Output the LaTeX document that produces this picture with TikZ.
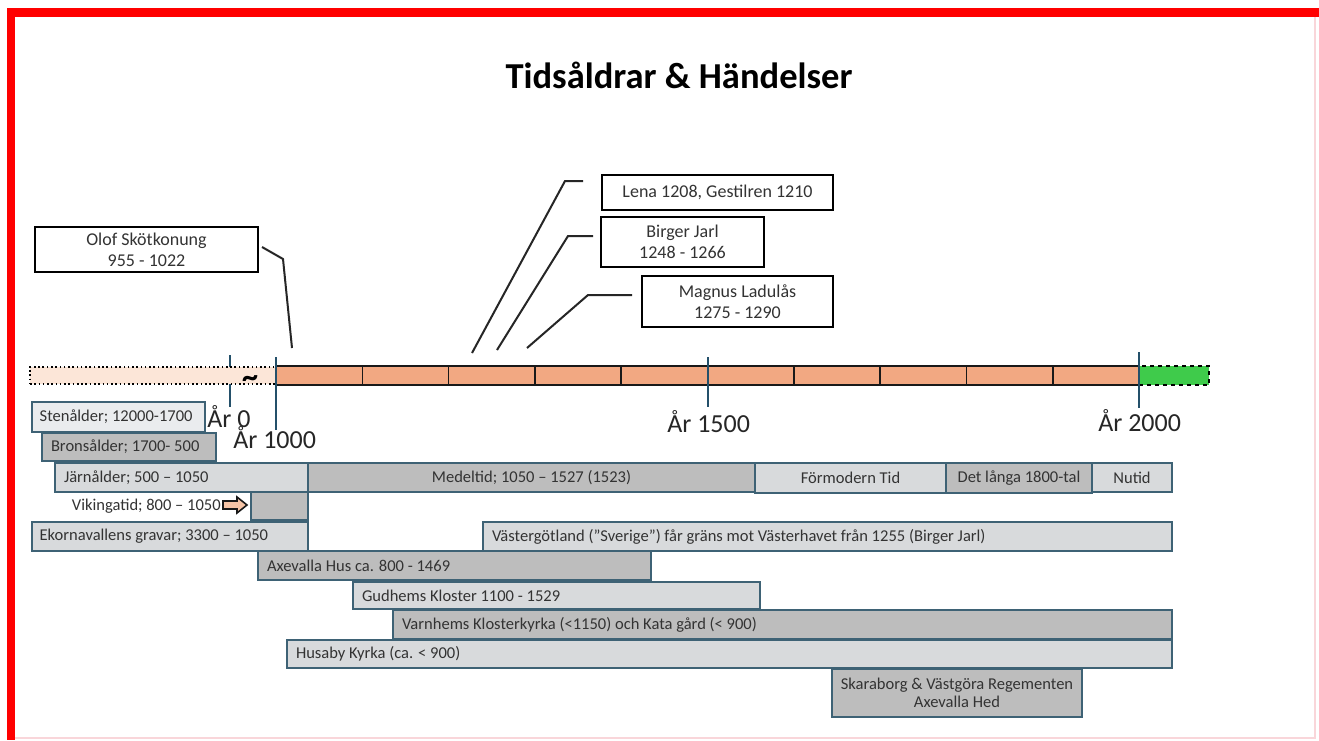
\documentclass[tikz,border=0pt]{standalone}
\usepackage{fontspec}
\setmainfont{Carlito}
\usetikzlibrary{fit}
\definecolor{barline}{HTML}{3E6275}
\definecolor{lightbar}{HTML}{D8DADC}
\definecolor{palebar}{HTML}{EAECEE}
\definecolor{darkbar}{HTML}{BDBDBD}
\definecolor{txt}{HTML}{333333}
\definecolor{tickc}{HTML}{24506A}
\definecolor{orangeseg}{HTML}{F2A882}
\definecolor{peach}{HTML}{FCE6D8}
\definecolor{greenseg}{HTML}{3FCB4B}
\definecolor{arrowfill}{HTML}{F6C4A6}
\definecolor{framepink}{HTML}{F9D6DA}
\tikzset{
  bar/.style={draw=barline, line width=0.9pt, inner sep=0pt},
  bartext/.style={font=\fontsize{12.4}{14}\selectfont, text=txt, inner sep=0pt},
  callout/.style={draw=black, line width=1.4pt, fill=white, inner sep=0pt},
  callouttext/.style={align=center, text=txt, inner sep=0pt, font=\fontsize{13.5}{16}\selectfont},
  leader/.style={line width=1.5pt, draw=black!85},
  tickline/.style={draw=tickc, line width=1.2pt},
  yearlab/.style={font=\fontsize{19.5}{22}\selectfont, inner sep=0pt, anchor=base west, text=black!85},
  seg/.style={draw=black!90, line width=1.2pt, fill=orangeseg, inner sep=0pt},
}
\newcommand\tlbar[6]{\node[bar, fill=#6, fit={(#2,#3)(#4,#5)}] (#1) {};}
\begin{document}
\begin{tikzpicture}[x=0.75pt,y=-0.75pt]
\useasboundingbox (0,0) rectangle (1319,740);
\fill[white] (0,0) rectangle (1319,740);
% frame
\fill[red] (7,8) rectangle (1319,17);
\fill[red] (7,8) rectangle (15,740);
\draw[framepink, line width=1pt] (1315,17) -- (1315,738) -- (15,738);
% title
\node[font=\bfseries\fontsize{27.4}{30}\selectfont, inner sep=0pt] (title) at (679,75) {Tidsåldrar \& Händelser};
% year 0 tick (behind bar)
\coordinate (t0a) at (230,355); \coordinate (t0b) at (230,407);
\draw[tickline] (t0a) -- (t0b);
% timeline bar
\node[draw=black, dotted, line width=1.2pt, fill=peach, inner sep=0pt, fit={(30,367)(276,384)}] (prehist) {};
\foreach \i in {0,...,9}{
  \pgfmathsetmacro\xa{276+86.3*\i}
  \pgfmathsetmacro\xb{276+86.3*(\i+1)}
  \node[seg, fit={(\xa,366)(\xb,385)}] (seg\i) {};
}
\node[draw=black, dashed, line width=1.6pt, fill=greenseg, inner sep=0pt, fit={(1139,366)(1209,385)}] (future) {};
\node[font=\bfseries\fontsize{24}{24}\selectfont, inner sep=0pt] (tilde) at (250,382) {\textasciitilde};
% other ticks
\coordinate (t1a) at (276,357); \coordinate (t1b) at (276,430);
\coordinate (t2a) at (708,357); \coordinate (t2b) at (708,407);
\coordinate (t3a) at (1139,352); \coordinate (t3b) at (1139,408);
\draw[tickline] (t1a) -- (t1b);
\draw[tickline] (t2a) -- (t2b);
\draw[tickline] (t3a) -- (t3b);
% year labels
\node[yearlab] (y0) at (207,427) {År 0};
\node[yearlab] (y1000) at (233,448) {År 1000};
\node[yearlab] (y1500) at (667,432) {År 1500};
\node[yearlab] (y2000) at (1098,431) {År 2000};
% callouts
\node[callout, fit={(35,227)(258,272)}] (olof) {};
\node[callouttext] (olofT) at (olof.center) {Olof Skötkonung\\955 - 1022};
\node[callout, fit={(602,175)(833,210)}] (lena) {};
\node[callouttext] (lenaT) at (lena.center) {Lena 1208, Gestilren 1210};
\node[callout, fit={(601,217)(764,267)}] (birger) {};
\node[callouttext] (birgerT) at (birger.center) {Birger Jarl\\1248 - 1266};
\node[callout, fit={(642,276)(833,327)}] (magnus) {};
\node[callouttext] (magnusT) at (magnus.center) {Magnus Ladulås\\1275 - 1290};
% leaders
\coordinate (olA) at (262,247); \coordinate (olB) at (283,259); \coordinate (olC) at (292,348);
\coordinate (leA) at (583,181); \coordinate (leB) at (565,181); \coordinate (leC) at (472,353);
\coordinate (biA) at (593,236); \coordinate (biB) at (568,236); \coordinate (biC) at (497,350);
\coordinate (maA) at (632,295); \coordinate (maB) at (588,295); \coordinate (maC) at (527,348);
\draw[leader] (olA) -- (olB) -- (olC);
\draw[leader] (leA) -- (leB) -- (leC);
\draw[leader] (biA) -- (biB) -- (biC);
\draw[leader] (maA) -- (maB) -- (maC);
% period bars
\tlbar{sten}{32}{402}{205}{432}{palebar}
\node[bartext, anchor=west] (stenT) at ([xshift=6pt]sten.west) {Stenålder; 12000-1700};
\tlbar{brons}{42}{433}{216}{461}{darkbar}
\node[bartext, anchor=west] (bronsT) at ([xshift=7pt]brons.west) {Bronsålder; 1700- 500};
\tlbar{jarn}{55}{463}{308}{492}{lightbar}
\node[bartext, anchor=west] (jarnT) at ([xshift=7pt]jarn.west) {Järnålder; 500 – 1050};
\tlbar{medel}{308}{463}{755}{492}{darkbar}
\node[bartext] (medelT) at (medel.center) {Medeltid; 1050 – 1527 (1523)};
\tlbar{formod}{755}{463}{946}{493}{lightbar}
\node[bartext] (formodT) at (formod.center) {Förmodern Tid};
\tlbar{lang}{946}{463}{1092}{493}{darkbar}
\node[bartext] (langT) at (lang.center) {Det långa 1800-tal};
\tlbar{nutid}{1092}{463}{1172}{492}{lightbar}
\node[bartext] (nutidT) at (nutid.center) {Nutid};
\tlbar{viking}{251}{492}{308}{520}{darkbar}
\node[bartext, anchor=east] (vikingT) at (221,506) {Vikingatid; 800 – 1050};
\fill[arrowfill, draw=black!90, line width=1.2pt]
  (223,501) -- (237,501) -- (237,497) -- (247,505) -- (237,513) -- (237,509) -- (223,509) -- cycle;
\tlbar{ekorna}{32}{522}{308}{551}{lightbar}
\node[bartext, anchor=west] (ekornaT) at ([xshift=6pt]ekorna.west) {Ekornavallens gravar; 3300 – 1050};
\tlbar{vastg}{483}{522}{1172}{551}{lightbar}
\node[bartext, anchor=west] (vastgT) at ([xshift=7pt]vastg.west) {Västergötland ("Sverige") får gräns mot Västerhavet från 1255 (Birger Jarl)};
\tlbar{axev}{258}{551}{651}{580}{darkbar}
\node[bartext, anchor=west] (axevT) at ([xshift=7pt]axev.west) {Axevalla Hus ca. 800 - 1469};
\tlbar{gudh}{353}{582}{760}{609}{lightbar}
\node[bartext, anchor=west] (gudhT) at ([xshift=7pt]gudh.west) {Gudhems Kloster 1100 - 1529};
\tlbar{varn}{393}{610}{1172}{639}{darkbar}
\node[bartext, anchor=west] (varnT) at ([xshift=7pt]varn.west) {Varnhems Klosterkyrka (<1150) och Kata gård (< 900)};
\tlbar{husa}{287}{640}{1172}{668}{lightbar}
\node[bartext, anchor=west] (husaT) at ([xshift=7pt]husa.west) {Husaby Kyrka (ca. < 900)};
\tlbar{skara}{832}{669}{1082}{717}{darkbar}
\node[bartext, align=center, font=\fontsize{12.4}{13.5}\selectfont] (skaraT) at (skara.center) {Skaraborg \& Västgöra Regementen\\Axevalla Hed};
\end{tikzpicture}
\end{document}
